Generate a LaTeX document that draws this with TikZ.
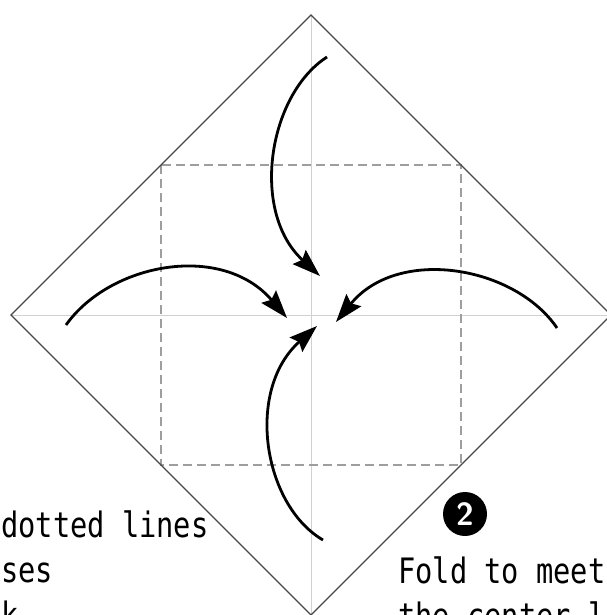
\documentclass[tikz,border=0pt]{standalone}
\usepackage{fontspec}
\usetikzlibrary{arrows.meta}
\newfontfamily\gothic[FakeStretch=0.82]{DejaVu Sans Mono}

\begin{document}
\begin{tikzpicture}[x=1pt,y=-1pt,
  edge/.style={draw=black!72,line width=1.1pt},
  centreline/.style={draw=black!18,line width=0.8pt},
  valley/.style={draw=black!38,line width=1.5pt,dash pattern=on 9pt off 5pt},
  foldarrow/.style={line width=2.8pt,-{Stealth[length=28pt,width=19pt,inset=4pt]}},
  caption/.style={font=\gothic\fontsize{35}{45}\selectfont,anchor=base west,inner sep=0pt}]
\useasboundingbox (0,0) rectangle (606,615);
\coordinate (T) at (311,15); \coordinate (L) at (11,315);
\coordinate (R) at (611,315); \coordinate (B) at (311,615);
\draw[centreline] (T) -- (B); \draw[centreline] (L) -- (R);
\draw[valley] (161,165) rectangle (461,465);
\draw[edge] (T) -- (R) -- (B) -- (L) -- cycle;
% flaps to the centre
\coordinate (a1) at (327,57);  \coordinate (t1) at (320,276);
\coordinate (a2) at (66,325);  \coordinate (t2) at (287,318);
\coordinate (a3) at (557,328); \coordinate (t3) at (336,322);
\coordinate (a4) at (323,540); \coordinate (t4) at (317,326);
\draw[foldarrow] (a1) .. controls (268,95) and (250,212) .. (t1);
\draw[foldarrow] (a2) .. controls (110,263) and (222,242) .. (t2);
\draw[foldarrow] (a3) .. controls (515,266) and (398,246) .. (t3);
\draw[foldarrow] (a4) .. controls (263,505) and (245,390) .. (t4);
\node[caption] (dl) at (1,537) {dotted lines};
\node[caption] (cr) at (1,582) {ses};
\node[caption] (bk) at (1,627) {k};
\node[circle,fill=black,minimum size=44pt,inner sep=0pt,text=white,
  font=\sffamily\bfseries\fontsize{32}{32}\selectfont] (step2) at (465,514) {2};
\node[caption] (fold) at (398,583) {Fold to meet};
\node[caption] (ctr) at (398,628) {the center l};
\end{tikzpicture}
\end{document}
